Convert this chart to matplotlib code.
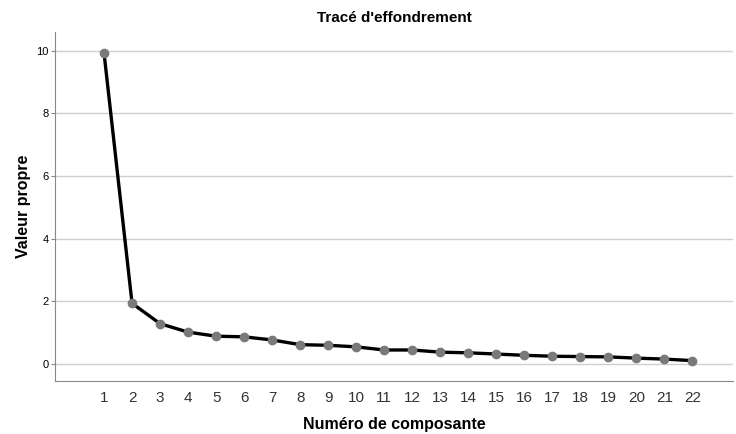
import matplotlib.pyplot as plt

plt.rcParams['font.family'] = ['Liberation Sans', 'DejaVu Sans']

components = list(range(1, 23))
eigenvalues = [9.93, 1.94, 1.29, 1.02, 0.89, 0.87, 0.77, 0.62, 0.60, 0.55, 0.45,
               0.45, 0.38, 0.36, 0.32, 0.28, 0.25, 0.24, 0.23, 0.19, 0.16, 0.11]
y_ticks = [0, 2, 4, 6, 8, 10]

fig = plt.figure(figsize=(7.36, 4.34), dpi=100)
ax = fig.add_axes([55 / 736, 53 / 434, 678 / 736, 349 / 434])

ax.plot(components, eigenvalues, color='black', linewidth=2.4, zorder=3)
ax.plot(components, eigenvalues, linestyle='none', marker='o', markersize=6,
        color='#7a7a7a', zorder=4)

ax.set_xlim(-0.75, 23.45)
ax.set_ylim(-0.54, 10.6)
ax.set_xticks(components)
ax.set_yticks(y_ticks)
ax.yaxis.grid(True, color='#cfcfcf', linewidth=1)
ax.set_axisbelow(True)

for side in ['top', 'right']:
    ax.spines[side].set_visible(False)
for side in ['left', 'bottom']:
    ax.spines[side].set_color('#888888')

ax.tick_params(axis='x', length=0, labelsize=11, labelcolor='#333333', pad=7)
ax.tick_params(axis='y', length=3, color='#888888', labelsize=8, pad=1.5)

ax.set_title("Tracé d'effondrement", fontsize=11, fontweight='bold', pad=7)
ax.set_xlabel('Numéro de composante', fontsize=11.5, fontweight='bold', labelpad=9)
ax.set_ylabel('Valeur propre', fontsize=11.5, fontweight='bold', labelpad=4)

fig.savefig('out.png', dpi=100)
